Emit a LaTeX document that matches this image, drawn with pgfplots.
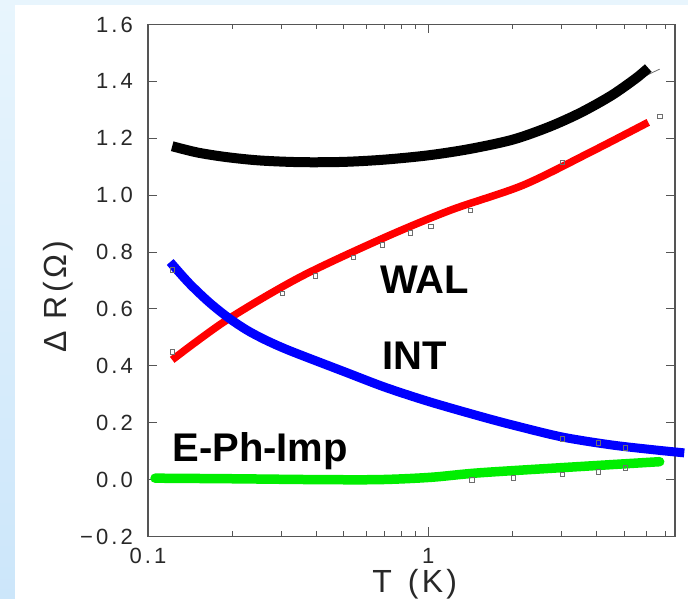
\documentclass[border=0pt]{standalone}
\usepackage{fontspec}
\setmainfont{Liberation Sans}
\newfontfamily\tickfont[LetterSpace=14]{Liberation Sans}
\newfontfamily\labfont[LetterSpace=10]{Liberation Sans}
\usepackage{pgfplots}
\pgfplotsset{compat=1.18}

\definecolor{framegray}{RGB}{85,85,85}
\definecolor{ticktext}{RGB}{40,40,40}
\definecolor{bgtop}{RGB}{232,245,253}
\definecolor{bgbot}{RGB}{204,230,250}
\definecolor{wal}{RGB}{255,0,0}
\definecolor{intc}{RGB}{0,0,255}
\definecolor{eph}{RGB}{0,238,0}
\definecolor{datagray}{RGB}{110,110,110}

\begin{document}
\begin{tikzpicture}
\useasboundingbox (0pt,0pt) rectangle (688pt,599pt);
\shade[top color=bgtop, bottom color=bgbot] (0pt,0pt) rectangle (688pt,599pt);
\fill[white] (15pt,0pt) rectangle (688pt,594pt);

\begin{axis}[
  at={(148pt,62.5pt)}, anchor=south west,
  scale only axis, width=527pt, height=512pt,
  xmode=log, log basis x=10,
  xmin=0.1, xmax=7.6, ymin=-0.2, ymax=1.6,
  clip=false,
  axis line style={draw=framegray, line width=1.1pt},
  tick style={draw=framegray, line width=0.9pt},
  tick align=inside,
  major tick length=9pt, minor tick length=5pt,
  xtick={0.1,1}, xticklabels={0.1,1},
  minor xtick={0.2,0.3,0.4,0.5,0.6,0.7,0.8,0.9,2,3,4,5,6,7},
  ytick={-0.2,0,0.2,0.4,0.6,0.8,1.0,1.2,1.4,1.6},
  yticklabels={−0.2,0.0,0.2,0.4,0.6,0.8,1.0,1.2,1.4,1.6},
  xticklabel style={font=\tickfont\fontsize{22}{24}\selectfont, text=ticktext,
    anchor=north, inner sep=0pt, yshift=-11.5pt},
  yticklabel style={font=\tickfont\fontsize{22}{24}\selectfont, text=ticktext,
    anchor=east, inner sep=0pt, xshift=-15pt},
  xlabel={T\hspace{16pt}(K)},
  xlabel style={font=\labfont\fontsize{32}{36}\selectfont, text=ticktext,
    at={(axis description cs:0.506,-0.110)}, anchor=base, inner sep=0pt},
  ylabel={Δ R(Ω)},
  ylabel style={font=\labfont\fontsize{32}{36}\selectfont, text=ticktext,
    at={(axis description cs:-0.171,0.468)}, anchor=center, inner sep=0pt},
]

% measured points (open squares)
\addplot[only marks, mark=square, mark size=2.2pt, draw=datagray, mark options={line width=0.6pt}]
  coordinates {
  (0.122,0.449) (0.122,0.737) (0.301,0.656) (0.395,0.716) (0.540,0.782)
  (0.685,0.825) (0.862,0.867) (1.02,0.891) (1.41,0.947) (3.01,1.116) (6.7,1.277)
  (1.43,0.0) (2.01,0.007) (3.01,0.018) (4.05,0.028) (5.05,0.042)
  (3.01,0.144) (4.05,0.130) (5.05,0.112)
  };

% thin fit line emerging below the total curve
\addplot[datagray, line width=0.8pt, smooth]
  coordinates {(4.6,1.352) (5.4,1.396) (6.1,1.424) (6.7,1.443)};

% total
\addplot[black, line width=10pt, smooth]
  coordinates {
  (0.122,1.172) (0.15,1.150) (0.19,1.134) (0.25,1.122) (0.35,1.116)
  (0.5,1.117) (0.7,1.125) (1.0,1.140) (1.4,1.162) (2.0,1.195)
  (2.7,1.240) (3.5,1.290) (4.5,1.350) (5.5,1.410) (6.1,1.447)
  };

% weak antilocalisation
\addplot[wal, line width=7.5pt, smooth]
  coordinates {
  (0.122,0.421) (0.191,0.561) (0.349,0.712) (0.691,0.849) (1.20,0.947)
  (2.18,1.035) (3.79,1.151) (6.1,1.256)
  };

% interaction
\addplot[intc, line width=9pt, smooth]
  coordinates {
  (0.120,0.765) (0.140,0.691) (0.165,0.624) (0.193,0.570) (0.225,0.526)
  (0.26,0.493) (0.30,0.465) (0.349,0.439) (0.5,0.380) (0.7,0.325)
  (1.0,0.275) (1.5,0.225) (2.0,0.192) (3.0,0.150) (4.5,0.122)
  (6.5,0.104) (8.2,0.094)
  };

% electron-phonon-impurity
\addplot[eph, line width=9.5pt, line cap=round, smooth]
  coordinates {
  (0.106,0.005) (0.2,0.003) (0.4,0.0) (0.67,0.0) (1.02,0.008)
  (1.53,0.024) (3.49,0.046) (6.7,0.063)
  };

\node[anchor=base west, inner sep=0pt, font=\bfseries\fontsize{40}{44}\selectfont]
  at (axis cs:0.674,0.656) {WAL};
\node[anchor=base west, inner sep=0pt, font=\bfseries\fontsize{40}{44}\selectfont]
  at (axis cs:0.685,0.386) {INT};
\node[anchor=base west, inner sep=0pt, font=\bfseries\fontsize{40}{44}\selectfont]
  at (axis cs:0.122,0.063) {E-Ph-Imp};
\end{axis}
\end{tikzpicture}
\end{document}
